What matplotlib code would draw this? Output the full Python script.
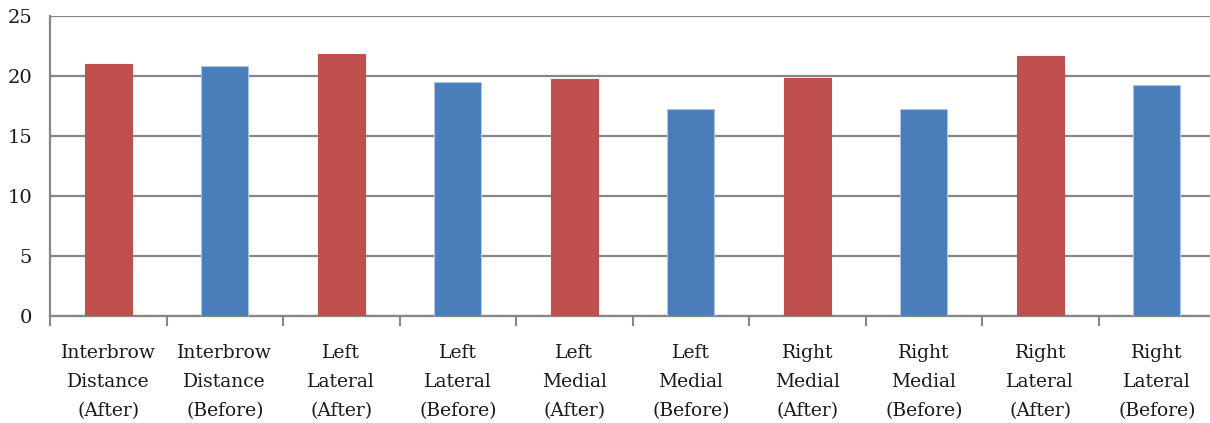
import matplotlib
matplotlib.use("Agg")
import matplotlib.pyplot as plt
import numpy as np

categories = [
    "Interbrow\nDistance\n(After)", "Interbrow\nDistance\n(Before)",
    "Left\nLateral\n(After)", "Left\nLateral\n(Before)",
    "Left\nMedial\n(After)", "Left\nMedial\n(Before)",
    "Right\nMedial\n(After)", "Right\nMedial\n(Before)",
    "Right\nLateral\n(After)", "Right\nLateral\n(Before)",
]
values = [21.0, 20.8, 21.83, 19.5, 19.75, 17.28, 19.83, 17.28, 21.67, 19.28]
is_after = [True, False] * 5
y_ticks = [0, 5, 10, 15, 20, 25]

RED = "#C0504D"
BLUE = "#4A7EBB"
GRID = "#878787"

plt.rcParams["font.family"] = ["DejaVu Serif"]

fig = plt.figure(figsize=(12.10, 4.23), dpi=100)
ax = fig.add_axes([50 / 1210, 1 - 316 / 423, 1165 / 1210, 300 / 423])

x = np.arange(len(categories))
colors = [RED if a else BLUE for a in is_after]
edges = [RED if a else "#A9C4E6" for a in is_after]
ax.bar(x, values, width=0.40, color=colors, edgecolor=edges, linewidth=0.8, zorder=3)

ax.set_xlim(-0.5, len(categories) - 0.5)
ax.set_ylim(0, 25)
ax.set_yticks(y_ticks)
ax.set_yticklabels([str(t) for t in y_ticks], fontsize=14, color="#1a1a1a")
ax.tick_params(axis="y", length=0, pad=13)

ax.set_xticks(x)
ax.set_xticklabels(categories, fontsize=13.5, color="#1a1a1a", linespacing=1.8)
ax.set_xticks(np.arange(-0.5, len(categories)), minor=True)
ax.tick_params(axis="x", which="major", length=0, pad=20)
ax.tick_params(axis="x", which="minor", length=7, width=1.5, color=GRID)

ax.yaxis.grid(True, color=GRID, linewidth=1.6, zorder=0)
for side in ["top", "right"]:
    ax.spines[side].set_visible(False)
for side in ["left", "bottom"]:
    ax.spines[side].set_color(GRID)
    ax.spines[side].set_linewidth(1.6)

fig.savefig("out.png", dpi=100)
